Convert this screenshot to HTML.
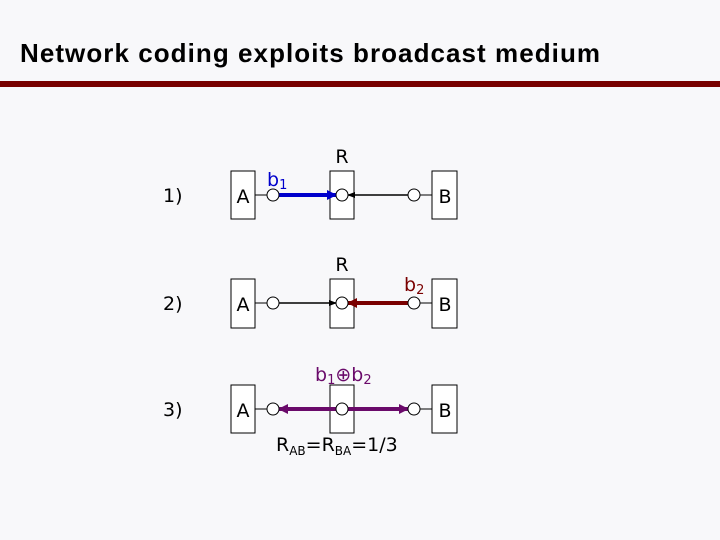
<!DOCTYPE html>
<html><head><style>
html,body{margin:0;padding:0;background:#f8f8fa;}
svg{display:block}
text{font-family:"DejaVu Sans","Liberation Sans",sans-serif;}
</style></head><body>
<svg width="720" height="540" viewBox="0 0 720 540" xmlns="http://www.w3.org/2000/svg">
<defs>
<marker id="ak" markerWidth="8" markerHeight="8" refX="7" refY="4" orient="auto" markerUnits="userSpaceOnUse"><path d="M0,1 L8,4 L0,7z" fill="#000"/></marker>
<marker id="ab" markerWidth="10" markerHeight="10" refX="9" refY="5" orient="auto" markerUnits="userSpaceOnUse"><path d="M0,0 L10,5 L0,10z" fill="#0000cc"/></marker>
<marker id="ar" markerWidth="10" markerHeight="10" refX="9" refY="5" orient="auto" markerUnits="userSpaceOnUse"><path d="M0,0 L10,5 L0,10z" fill="#7a0000"/></marker>
<marker id="ap" markerWidth="10" markerHeight="10" refX="9" refY="5" orient="auto" markerUnits="userSpaceOnUse"><path d="M0,0 L10,5 L0,10z" fill="#6a0a6a"/></marker>
</defs>
<text x="20" y="62" font-family="Liberation Sans" font-weight="bold" font-size="26" textLength="580" style="font-family:'Liberation Sans',sans-serif">Network coding exploits broadcast medium</text>
<rect x="0" y="81" width="720" height="6" fill="#780000"/>

<g font-size="19" fill="#000">
<text x="163" y="202">1)</text>
<text x="163" y="310">2)</text>
<text x="163" y="416">3)</text>
</g>

<g stroke="#000" stroke-width="1" fill="#fff">
<!-- row1 -->
<rect x="231" y="171" width="24" height="48"/><rect x="330" y="171" width="24" height="48"/><rect x="432" y="171" width="25" height="48"/>
<!-- row2 -->
<rect x="231" y="279" width="24" height="49"/><rect x="330" y="279" width="24" height="49"/><rect x="432" y="279" width="25" height="49"/>
<!-- row3 -->
<rect x="231" y="385" width="24" height="48"/><rect x="330" y="385" width="24" height="48"/><rect x="432" y="385" width="25" height="48"/>
</g>
<g stroke="#000" stroke-width="1">
<line x1="255" y1="195" x2="267" y2="195"/><line x1="420" y1="195" x2="432" y2="195"/>
<line x1="255" y1="303" x2="267" y2="303"/><line x1="420" y1="303" x2="432" y2="303"/>
<line x1="255" y1="409" x2="267" y2="409"/><line x1="420" y1="409" x2="432" y2="409"/>
</g>
<!-- arrows -->
<line x1="279" y1="195" x2="336" y2="195" stroke="#0000cc" stroke-width="4" marker-end="url(#ab)"/>
<line x1="408" y1="195" x2="348" y2="195" stroke="#000" stroke-width="1.5" marker-end="url(#ak)"/>
<line x1="279" y1="303" x2="336" y2="303" stroke="#000" stroke-width="1.5" marker-end="url(#ak)"/>
<line x1="408" y1="303" x2="348" y2="303" stroke="#7a0000" stroke-width="4" marker-end="url(#ar)"/>
<line x1="336" y1="409" x2="279" y2="409" stroke="#6a0a6a" stroke-width="4" marker-end="url(#ap)"/>
<line x1="348" y1="409" x2="408" y2="409" stroke="#6a0a6a" stroke-width="4" marker-end="url(#ap)"/>
<g stroke="#000" stroke-width="1" fill="#fff">
<circle cx="273" cy="195" r="6"/><circle cx="342" cy="195" r="6"/><circle cx="414" cy="195" r="6"/>
<circle cx="273" cy="303" r="6"/><circle cx="342" cy="303" r="6"/><circle cx="414" cy="303" r="6"/>
<circle cx="273" cy="409" r="6"/><circle cx="342" cy="409" r="6"/><circle cx="414" cy="409" r="6"/>
</g>
<g font-size="19" fill="#000" text-anchor="middle">
<text x="243" y="203">A</text><text x="342" y="163">R</text><text x="445" y="203">B</text>
<text x="243" y="311">A</text><text x="342" y="271">R</text><text x="445" y="311">B</text>
<text x="243" y="417">A</text><text x="445" y="417">B</text>
</g>
<text x="267" y="186" font-size="19" fill="#0000cc">b<tspan font-size="13" dy="3">1</tspan></text>
<text x="404" y="291" font-size="19" fill="#7a0000">b<tspan font-size="13" dy="3">2</tspan></text>
<text x="315" y="381" font-size="19" fill="#6a0a6a">b<tspan font-size="13" dy="3">1</tspan><tspan dy="-3">⊕b</tspan><tspan font-size="13" dy="3">2</tspan></text>
<text x="276" y="451" font-size="19" fill="#000">R<tspan font-size="12" dy="4">AB</tspan><tspan dy="-4">=R</tspan><tspan font-size="12" dy="4">BA</tspan><tspan dy="-4">=1/3</tspan></text>
</svg>
</body></html>
